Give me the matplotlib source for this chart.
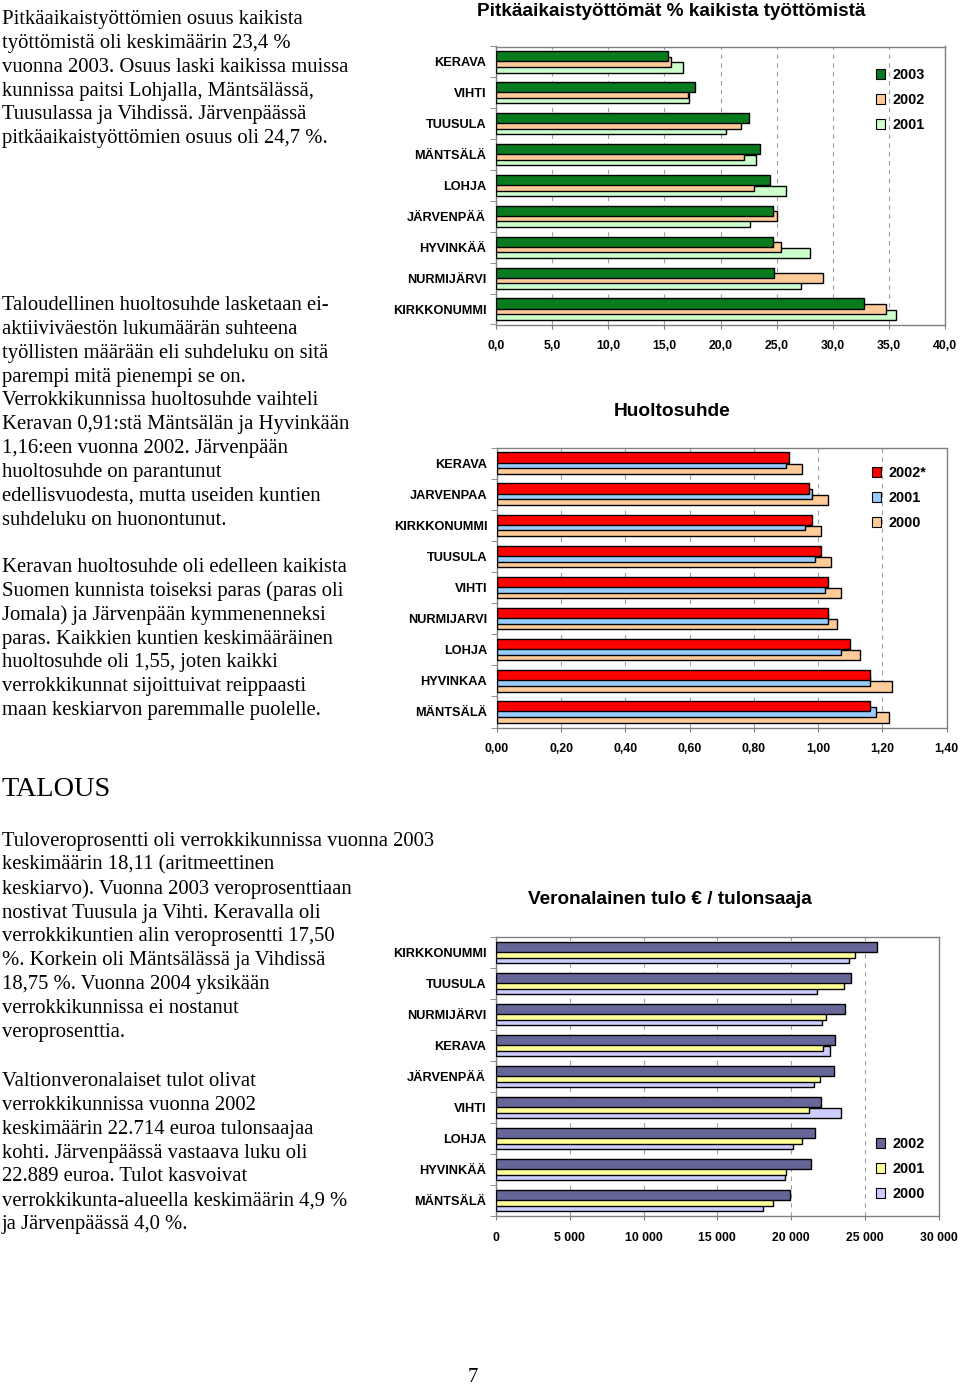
import numpy as np
import matplotlib
matplotlib.use('Agg')
import matplotlib.pyplot as plt
from matplotlib.patches import Patch
from matplotlib.ticker import FuncFormatter

W, H = 960, 1386

# --- data -------------------------------------------------------------
unemp_cats = ['KERAVA', 'VIHTI', 'TUUSULA', 'MÄNTSÄLÄ', 'LOHJA', 'JÄRVENPÄÄ',
              'HYVINKÄÄ', 'NURMIJÄRVI', 'KIRKKONUMMI']
unemp_2003 = [15.3, 17.7, 22.5, 23.5, 24.4, 24.7, 24.7, 24.8, 32.8]
unemp_2002 = [15.6, 17.1, 21.8, 22.1, 23.0, 25.0, 25.4, 29.1, 34.7]
unemp_2001 = [16.7, 17.2, 20.5, 23.2, 25.8, 22.6, 28.0, 27.2, 35.6]
unemp_years = ['2003', '2002', '2001']

dep_cats = ['KERAVA', 'JARVENPAA', 'KIRKKONUMMI', 'TUUSULA', 'VIHTI',
            'NURMIJARVI', 'LOHJA', 'HYVINKAA', 'MÄNTSÄLÄ']
dep_2002 = [0.91, 0.97, 0.98, 1.01, 1.03, 1.03, 1.10, 1.16, 1.16]
dep_2001 = [0.90, 0.98, 0.96, 0.99, 1.02, 1.03, 1.07, 1.16, 1.18]
dep_2000 = [0.95, 1.03, 1.01, 1.04, 1.07, 1.06, 1.13, 1.23, 1.22]
dep_years = ['2002*', '2001', '2000']

inc_cats = ['KIRKKONUMMI', 'TUUSULA', 'NURMIJÄRVI', 'KERAVA', 'JÄRVENPÄÄ',
            'VIHTI', 'LOHJA', 'HYVINKÄÄ', 'MÄNTSÄLÄ']
inc_2002 = [25800, 24050, 23640, 22960, 22890, 22050, 21600, 21360, 19930]
inc_2001 = [24300, 23550, 22330, 22170, 21990, 21230, 20720, 19650, 18770]
inc_2000 = [23950, 21770, 22080, 22640, 21560, 23410, 20150, 19580, 18100]
inc_years = ['2002', '2001', '2000']

para1 = ["Pitkäaikaistyöttömien osuus kaikista",
         "työttömistä oli keskimäärin 23,4 %",
         "vuonna 2003. Osuus laski kaikissa muissa",
         "kunnissa paitsi Lohjalla, Mäntsälässä,",
         "Tuusulassa ja Vihdissä. Järvenpäässä",
         "pitkäaikaistyöttömien osuus oli 24,7 %."]
para2 = ["Taloudellinen huoltosuhde lasketaan ei-",
         "aktiiviväestön lukumäärän suhteena",
         "työllisten määrään eli suhdeluku on sitä",
         "parempi mitä pienempi se on.",
         "Verrokkikunnissa huoltosuhde vaihteli",
         "Keravan 0,91:stä Mäntsälän ja Hyvinkään",
         "1,16:een vuonna 2002. Järvenpään",
         "huoltosuhde on parantunut",
         "edellisvuodesta, mutta useiden kuntien",
         "suhdeluku on huonontunut."]
para3 = ["Keravan huoltosuhde oli edelleen kaikista",
         "Suomen kunnista toiseksi paras (paras oli",
         "Jomala) ja Järvenpään kymmenenneksi",
         "paras. Kaikkien kuntien keskimääräinen",
         "huoltosuhde oli 1,55, joten kaikki",
         "verrokkikunnat sijoittuivat reippaasti",
         "maan keskiarvon paremmalle puolelle."]
para4 = ["Tuloveroprosentti oli verrokkikunnissa vuonna 2003",
         "keskimäärin 18,11 (aritmeettinen",
         "keskiarvo). Vuonna 2003 veroprosenttiaan",
         "nostivat Tuusula ja Vihti. Keravalla oli",
         "verrokkikuntien alin veroprosentti 17,50",
         "%. Korkein oli Mäntsälässä ja Vihdissä",
         "18,75 %. Vuonna 2004 yksikään",
         "verrokkikunnissa ei nostanut",
         "veroprosenttia."]
para5 = ["Valtionveronalaiset tulot olivat",
         "verrokkikunnissa vuonna 2002",
         "keskimäärin 22.714 euroa tulonsaajaa",
         "kohti. Järvenpäässä vastaava luku oli",
         "22.889 euroa. Tulot kasvoivat",
         "verrokkikunta-alueella keskimäärin 4,9 %",
         "ja Järvenpäässä 4,0 %."]

SERIF = 'Liberation Serif'
SANS = 'Liberation Sans'
GRAY = '#808080'

fig = plt.figure(figsize=(W / 100, H / 100), dpi=100)


def paragraph(lines, y0, step=23.85, x=2):
    for i, line in enumerate(lines):
        fig.text(x / W, 1 - (y0 + 1.5 + i * step) / H, line, family=SERIF,
                 fontsize=14.9, va='center', ha='left')


def hbar_chart(box, cats, series, years, colors, xmax, step, fmt, leg_xy):
    l, t, r, b = box
    ax = fig.add_axes([l / W, 1 - b / H, (r - l) / W, (b - t) / H])
    y = np.arange(len(cats))
    h, s = 0.33, 0.18
    for k, (vals, c) in enumerate(zip(series, colors)):
        ax.barh(y + (k - 1) * s, vals, height=h, color=c, edgecolor='black',
                linewidth=1.0, zorder=5 - k)
    ax.set_ylim(len(cats) - 0.5, -0.5)
    ax.set_xlim(0, xmax)
    ax.set_xticks(np.arange(0, xmax + step / 2, step))
    ax.xaxis.set_major_formatter(FuncFormatter(fmt))
    ax.set_yticks(y)
    ax.set_yticklabels(cats)
    ax.set_yticks(np.arange(len(cats) + 1) - 0.5, minor=True)
    ax.tick_params(axis='y', which='major', length=0, pad=7)
    ax.tick_params(axis='y', which='minor', length=4, color=GRAY)
    ax.tick_params(axis='x', length=3, color=GRAY, pad=8.2)
    for lab in ax.get_xticklabels():
        lab.set_family(SANS)
        lab.set_fontweight('bold')
        lab.set_fontsize(8.8)
    for lab in ax.get_yticklabels():
        lab.set_family(SANS)
        lab.set_fontweight('bold')
        lab.set_fontsize(9.2)
    ax.grid(axis='x', color='#a0a0a0', linestyle=(0, (4, 4)), linewidth=0.8)
    ax.set_axisbelow(True)
    for sp in ax.spines.values():
        sp.set_color(GRAY)
        sp.set_linewidth(1.0)
    handles = [Patch(facecolor=c, edgecolor='black', linewidth=0.8, label=yr)
               for c, yr in zip(colors, years)]
    ax.legend(handles=handles, loc='upper left', frameon=False,
              bbox_to_anchor=(leg_xy[0] / W, 1 - leg_xy[1] / H),
              bbox_transform=fig.transFigure, borderpad=0, borderaxespad=0,
              handlelength=0.65, handleheight=0.65, handletextpad=0.5,
              labelspacing=0.76, prop={'family': SANS, 'weight': 'bold',
                                       'size': 10.4})
    return ax


def fmt1(v, pos):
    return f'{v:.1f}'.replace('.', ',')


def fmt2(v, pos):
    return f'{v:.2f}'.replace('.', ',')


def fmt_th(v, pos):
    return f'{int(v):,}'.replace(',', ' ')


# --- charts -------------------------------------------------------------
fig.text(671 / W, 1 - 11.5 / H, 'Pitkäaikaistyöttömät % kaikista työttömistä',
         family=SANS, weight='bold', fontsize=13.6, ha='center', va='center')
hbar_chart((496, 46.5, 945, 324.5), unemp_cats,
           [unemp_2003, unemp_2002, unemp_2001], unemp_years,
           ['#0a7a1e', '#ffcc99', '#ccffcc'], 40, 5, fmt1, (876, 68))

fig.text(672 / W, 1 - 411 / H, 'Huoltosuhde', family=SANS, weight='bold',
         fontsize=13.8, ha='center', va='center')
hbar_chart((497, 447.5, 946.7, 727.5), dep_cats,
           [dep_2002, dep_2001, dep_2000], dep_years,
           ['#ff0000', '#99ccff', '#ffcc99'], 1.4, 0.2, fmt2, (872, 466))

fig.text(670 / W, 1 - 900 / H, 'Veronalainen tulo € / tulonsaaja',
         family=SANS, weight='bold', fontsize=13.7, ha='center', va='center')
hbar_chart((496, 937, 938.7, 1216), inc_cats,
           [inc_2002, inc_2001, inc_2000], inc_years,
           ['#666699', '#ffff99', '#ccccff'], 30000, 5000, fmt_th, (876, 1137))

# --- body text ----------------------------------------------------------
paragraph(para1, 18)
paragraph(para2, 304)
paragraph(para3, 566)
fig.text(2 / W, 1 - 789 / H, 'TALOUS', family=SERIF, fontsize=20.3,
         va='center', ha='left')
paragraph(para4, 840)
paragraph(para5, 1080)
fig.text(473 / W, 1 - 1377 / H, '7', family=SERIF, fontsize=14.9,
         va='center', ha='center')

fig.savefig('out.png', dpi=100)
